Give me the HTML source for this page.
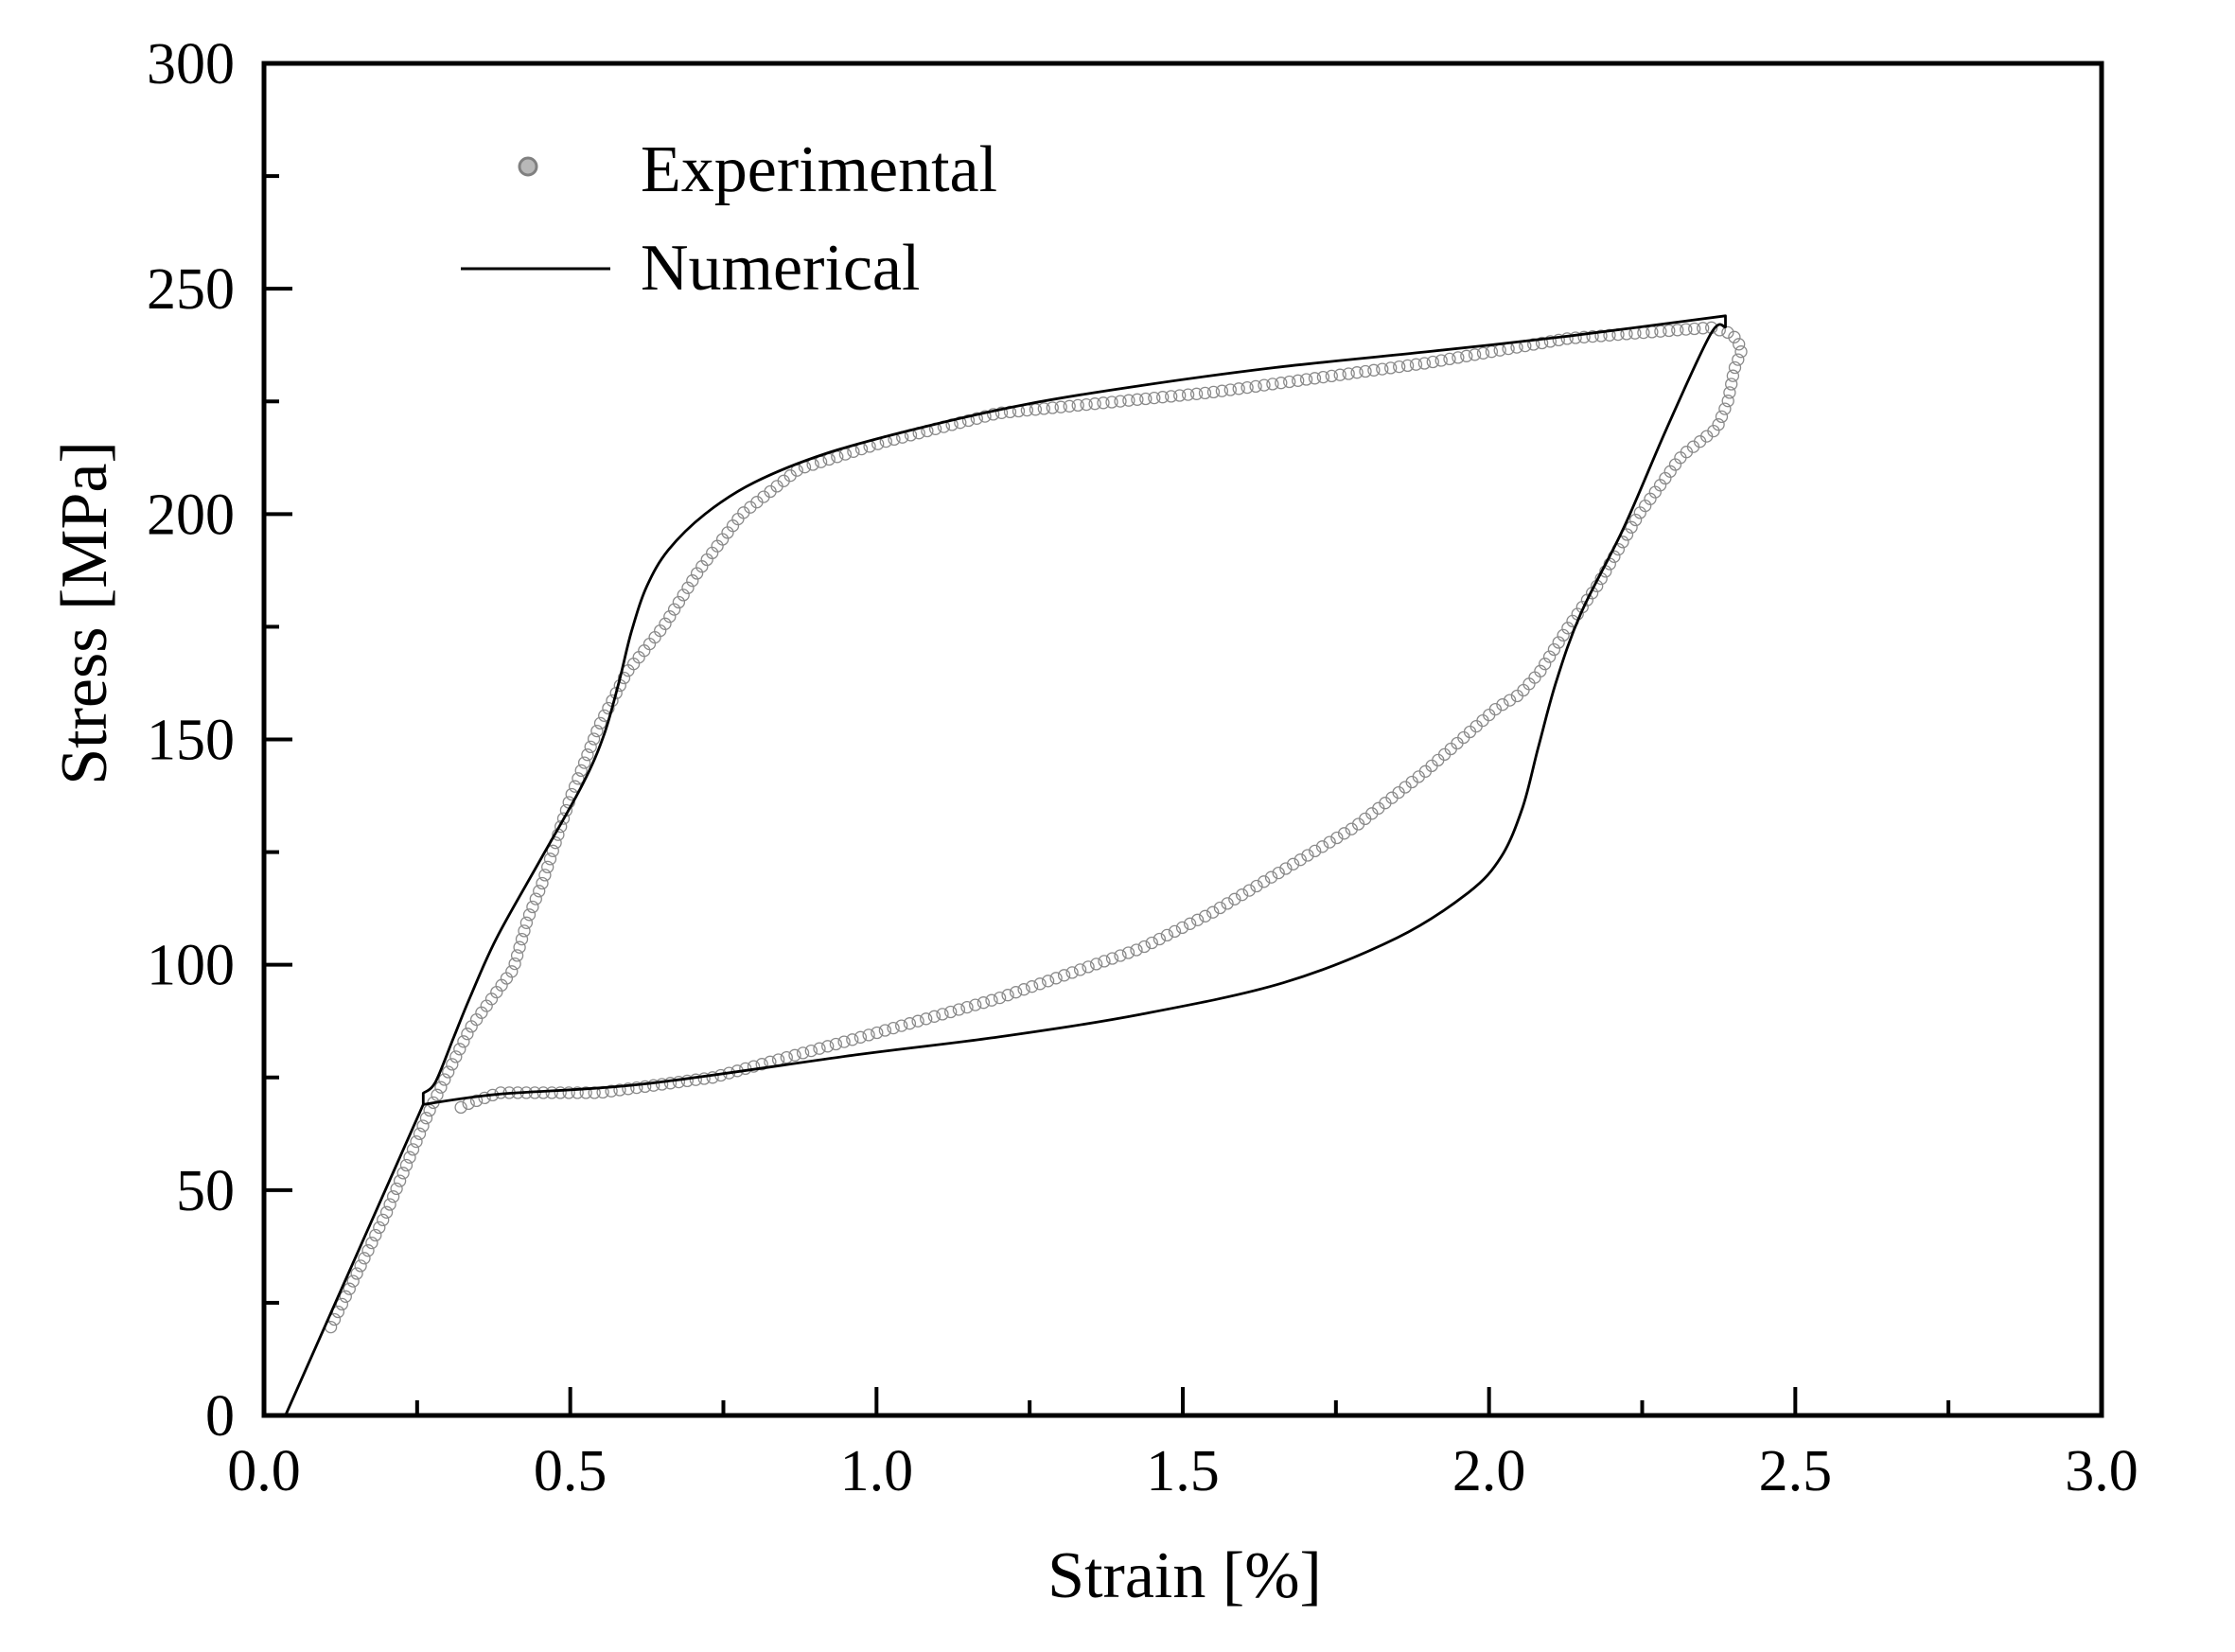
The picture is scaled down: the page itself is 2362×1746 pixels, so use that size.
<!DOCTYPE html>
<html><head><meta charset="utf-8">
<style>
html,body{margin:0;padding:0;background:#fff;}
svg{display:block;}
text{font-family:"Liberation Serif",serif;fill:#000;}
</style></head>
<body>
<svg id="s" width="2362" height="1746" viewBox="0 0 2362 1746" xmlns="http://www.w3.org/2000/svg">
<rect width="2362" height="1746" fill="#fff"/>
<g id="exp"></g>
<path id="num" fill="none" stroke="#000" stroke-width="2.8" stroke-linejoin="round"/>
<rect x="279" y="67" width="1942" height="1429" fill="none" stroke="#000" stroke-width="5"/>
<g id="ticks" stroke="#000" stroke-width="4"></g>
<g font-size="62" text-anchor="end" id="yl"></g>
<g font-size="62" text-anchor="middle" id="xl"></g>
<text x="1252" y="1688" font-size="70" text-anchor="middle">Strain [%]</text>
<text transform="translate(112,648) rotate(-90)" font-size="70" text-anchor="middle">Stress [MPa]</text>
<circle cx="558" cy="176" r="9" fill="#b8b8b8" stroke="#808080" stroke-width="3"/>
<text x="677" y="202" font-size="70">Experimental</text>
<line x1="487" y1="284" x2="645" y2="284" stroke="#000" stroke-width="3"/>
<text x="677" y="306" font-size="70">Numerical</text>
</svg>
<script>
var X=function(e){return 279+e*647.33;}, Y=function(s){return 1496-s*4.7633;};
var NS="http://www.w3.org/2000/svg";
var tk=document.getElementById('ticks'),yl=document.getElementById('yl'),xl=document.getElementById('xl');
function ln(x1,y1,x2,y2){var l=document.createElementNS(NS,'line');l.setAttribute('x1',x1);l.setAttribute('y1',y1);l.setAttribute('x2',x2);l.setAttribute('y2',y2);tk.appendChild(l);}
function tx(g,x,y,t){var e=document.createElementNS(NS,'text');e.setAttribute('x',x);e.setAttribute('y',y);e.textContent=t;g.appendChild(e);}
for(var i=1;i<12;i++){var x=X(i*0.25);ln(x,1496,x,1496-(i%2==0?30:16));}
for(var i=0;i<=6;i++){tx(xl,X(i*0.5),1575,(i*0.5).toFixed(1));}
for(var i=1;i<12;i++){var y=Y(i*25);ln(279,y,279+(i%2==0?30:16),y);}
for(var i=0;i<=6;i++){tx(yl,248,Y(i*50)+21,String(i*50));}
function smooth(pts){ // catmull-rom through points
 var d='M'+pts[0][0].toFixed(1)+' '+pts[0][1].toFixed(1);
 for(var i=0;i<pts.length-1;i++){
  var p0=pts[i-1]||pts[i],p1=pts[i],p2=pts[i+1],p3=pts[i+2]||p2;
  var c1=[p1[0]+(p2[0]-p0[0])/6,p1[1]+(p2[1]-p0[1])/6],c2=[p2[0]-(p3[0]-p1[0])/6,p2[1]-(p3[1]-p1[1])/6];
  d+='C'+c1[0].toFixed(1)+' '+c1[1].toFixed(1)+' '+c2[0].toFixed(1)+' '+c2[1].toFixed(1)+' '+p2[0].toFixed(1)+' '+p2[1].toFixed(1);
 }return d;}
function P(a){return a.map(function(p){return [X(p[0]),Y(p[1])];});}
var seg1=[[0.035,0],[0.26,69]];
var seg2=[[0.26,71.5],[0.28,74],[0.31,84],[0.337,93],[0.38,106],[0.45,123],[0.52,140],[0.555,151],[0.58,163],[0.60,174],[0.625,184],[0.66,192],[0.72,200],[0.80,207],[0.919,213.5],[1.082,219.5],[1.25,224.5],[1.431,228.5],[1.65,232.5],[1.897,236],[2.13,239.5],[2.386,244]];
var seg3=[[2.386,241.5],[2.362,240],[2.29,219],[2.22,197],[2.15,178],[2.11,163],[2.08,148],[2.055,135],[2.02,124],[1.966,116],[1.85,106],[1.664,96],[1.431,89],[1.2,84],[0.966,80],[0.617,73.5],[0.384,71.3],[0.26,69]];
var d='M'+X(0.035)+' '+Y(0)+'L'+X(0.26)+' '+Y(69)+'L'+X(0.26)+' '+Y(71.5);
d+=smooth(P(seg2)).replace(/^M[^C]*/,'');
d+='L'+X(2.386)+' '+Y(241.5);
d+=smooth(P(seg3)).replace(/^M[^C]*/,'');
document.getElementById('num').setAttribute('d',d);
// experimental
var ex=[[0.109,19.6],[0.2,45],[0.268,67],[0.30,76],[0.337,86],[0.372,92.5],[0.407,99],[0.43,110],[0.454,118],[0.5,137],[0.547,153],[0.593,165],[0.652,175],[0.71,187.5],[0.78,200],[0.873,210],[1.012,216],[1.198,222.4],[1.547,227],[1.897,233.5],[2.13,239],[2.362,241.4],[2.397,240],[2.413,236.6],[2.4,232],[2.39,225],[2.372,219],[2.315,213],[2.245,200],[2.176,184],[2.13,175],[2.083,165],[2.05,160],[2.013,157],[1.897,143],[1.78,130.5],[1.664,121],[1.547,111.5],[1.431,103.6],[1.198,92.5],[0.966,83.6],[0.733,75],[0.547,71.6],[0.384,71.6],[0.33,69],[0.314,67.8]];
var g=document.getElementById('exp'),step=9,carry=0;
for(var i=1;i<ex.length;i++){
 var x1=X(ex[i-1][0]),y1=Y(ex[i-1][1]),x2=X(ex[i][0]),y2=Y(ex[i][1]);
 var L=Math.hypot(x2-x1,y2-y1),t=carry;
 while(t<L){var f=t/L,c=document.createElementNS(NS,'circle');
  c.setAttribute('cx',(x1+(x2-x1)*f).toFixed(1));c.setAttribute('cy',(y1+(y2-y1)*f).toFixed(1));
  c.setAttribute('r','6');c.setAttribute('fill','none');c.setAttribute('stroke','#8a8a8a');c.setAttribute('stroke-width','1.3');g.appendChild(c);t+=step;}
 carry=t-L;
}
</script>
</body></html>
